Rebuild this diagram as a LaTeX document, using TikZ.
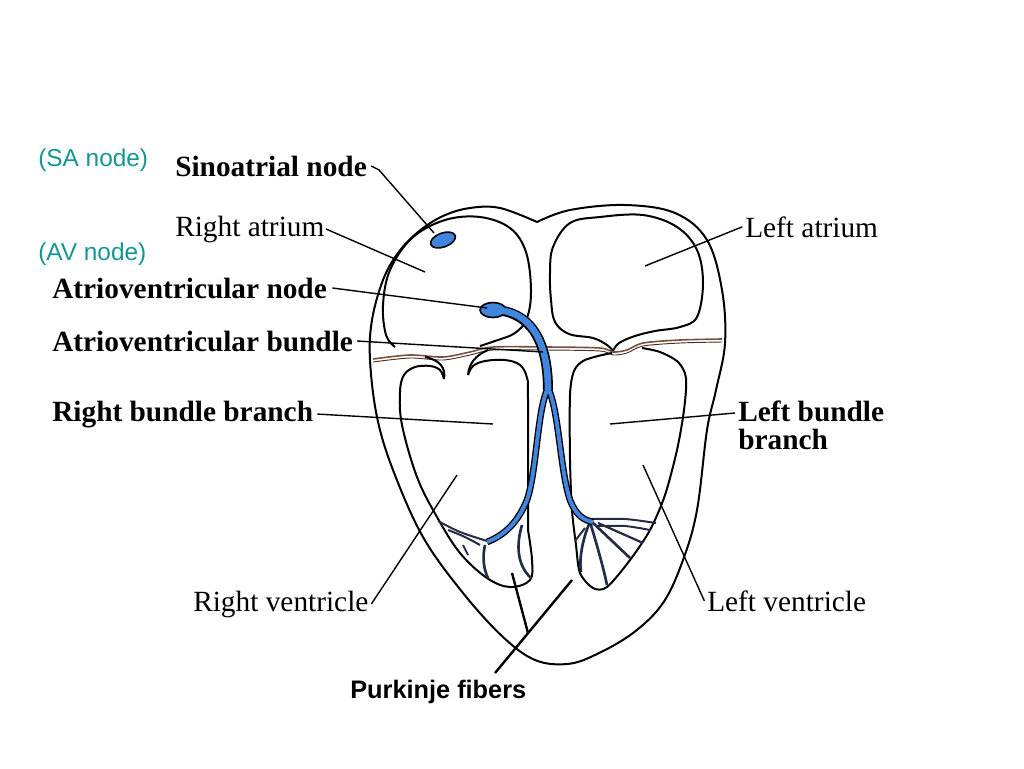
\documentclass[tikz,border=0pt]{standalone}
\usepackage{fontspec}
\setmainfont{Liberation Serif}
\newfontfamily\arialfont{Liberation Sans}
\usepackage{tikz}

\definecolor{teallabel}{RGB}{20,150,150}
\definecolor{nodeblue}{RGB}{66,133,222}
\definecolor{ringbrown}{RGB}{120,80,65}
\definecolor{fiber}{RGB}{35,45,70}

\begin{document}
\begin{tikzpicture}[x=0.75pt, y=-0.75pt,
  wall/.style={line width=1.5pt, black},
  leader/.style={line width=1.05pt, black},
  booklabel/.style={inner sep=0pt, anchor=base west, font=\fontsize{22}{20.5}\selectfont},
  boldlabel/.style={inner sep=0pt, anchor=base west, font=\fontsize{22}{20.5}\selectfont\bfseries},
  abbrlabel/.style={inner sep=0pt, anchor=base west, teallabel, font=\arialfont\fontsize{18.3}{20}\selectfont},
  purkinjelabel/.style={inner sep=0pt, anchor=base west, font=\arialfont\bfseries\fontsize{19}{20}\selectfont}]
\useasboundingbox (0,0) rectangle (1024,768);

% outer wall
\draw[wall] plot[smooth, tension=0.6] coordinates {(537,222) (570,210) (625,205) (675,213) (707,240) (722,290) (725,343) (716,390) (707,430) (697,510) (683,560) (663,603) (633,633) (595,655) (567,664) (535,660) (503,637) (463,593) (423,537) (393,470) (377,417) (370,360) (372,320) (383,280) (398,253) (418,232) (443,216) (470,208) (500,208) (537,222)};

% atria
\draw[wall] plot[smooth, tension=0.6] coordinates {(395,347) (386,335) (383,305) (390,270) (412,238) (445,220) (480,217) (510,228) (526,252) (531,290) (527,318) (515,333) (495,341) (480,346)};
\draw[wall] plot[smooth, tension=0.6] coordinates {(613,351) (619,343) (635,336) (655,331) (680,327) (697,317) (703,283) (697,250) (677,227) (643,215) (600,217) (570,223) (553,247) (550,273) (551,300) (555,322) (569,334) (593,338) (607,345) (613,351)};

% ring between atria and ventricles
\draw[ringbrown, line width=1.2pt] plot[smooth] coordinates {(373,359) (410,355) (443,357) (470,352) (493,347) (547,347) (600,348) (613,352) (627,350) (643,343) (680,340) (722,339)};
\draw[ringbrown!60!black, line width=0.7pt] plot[smooth] coordinates {(373,362) (410,358) (443,360) (470,355) (493,350) (547,350) (600,351) (613,355) (627,353) (643,346) (680,343) (722,342)};

% right ventricle
\draw[wall] (425,357) .. controls (440,360) and (446,368) .. (444,379);
\draw[wall] plot[smooth, tension=0.6] coordinates {(444,379) (440,370) (430,366) (415,367) (404,375) (400,392) (402,425) (417,477) (437,517) (460,553) (487,578) (510,587) (530,580) (532,560) (528,530)};
\draw[wall] (488,350) .. controls (476,355) and (469,363) .. (468,375);
\draw[wall] plot[smooth, tension=0.6] coordinates {(468,375) (473,366) (485,361) (505,360) (520,365) (527,378) (528,400) (528,530)};

% left ventricle
\draw[wall] plot[smooth, tension=0.5] coordinates {(612,353) (598,356) (583,361) (574,371) (570,395) (570,460) (572,510) (576,545) (580,573) (593,588) (607,587) (630,560) (650,530) (665,495) (677,450) (684,410) (686,378) (678,362) (660,352) (642,348)};

% purkinje fibers
\draw[fiber, line width=1.5pt] plot[smooth] coordinates {(438,521) (460,532) (487,541)};
\draw[fiber, line width=1.5pt] plot[smooth] coordinates {(448,530) (465,537) (480,545)};
\draw[fiber, line width=2pt] (485,545) .. controls (482,558) and (484,570) .. (488,578);
\draw[fiber, line width=1.5pt] (463,545) -- (468,555);
\draw[fiber, line width=2pt] (522,525) .. controls (516,545) and (517,565) .. (531,578);
\draw[fiber, line width=1.5pt] plot[smooth] coordinates {(592,519) (625,519) (656,523)};
\draw[fiber, line width=1.5pt] plot[smooth] coordinates {(597,526) (625,526) (650,530)};
\draw[fiber, line width=2pt] (590,522) .. controls (582,540) and (579,560) .. (581,572);
\draw[fiber, line width=2pt] (590,522) .. controls (597,545) and (604,570) .. (607,585);
\draw[fiber, line width=2pt] (592,522) -- (630,558);
\draw[fiber, line width=1.7pt] (598,523) -- (643,543);
\draw[fiber, line width=1.5pt] (585,528) -- (575,541);

% conduction path
\draw[black, line width=7.5pt] (495,310) .. controls (530,312) and (548,340) .. (548,390);
\draw[black, line width=5pt] (548,388) .. controls (537,410) and (537,470) .. (527,500) .. controls (518,522) and (505,535) .. (487,542);
\draw[black, line width=5pt] (548,388) .. controls (559,410) and (560,470) .. (570,500) .. controls (576,515) and (583,520) .. (593,522);
\filldraw[fill=nodeblue, draw=black, line width=1.2pt] (493,310) ellipse [x radius=13, y radius=7.5];
\draw[nodeblue, line width=5pt] (497,310) .. controls (530,312) and (548,340) .. (548,390);
\draw[nodeblue, line width=3pt] (548,388) .. controls (537,410) and (537,470) .. (527,500) .. controls (518,522) and (505,535) .. (487,542);
\draw[nodeblue, line width=3pt] (548,388) .. controls (559,410) and (560,470) .. (570,500) .. controls (576,515) and (583,520) .. (593,522);
\filldraw[fill=nodeblue, draw=black, line width=1.2pt] (443,240) ellipse [x radius=13, y radius=7, rotate=20];

% labels
\node[abbrlabel] (sanote) at (38,166) {(SA node)};
\node[abbrlabel] (avnote) at (38,260) {(AV node)};
\node[boldlabel] (sinoatrial) at (175,176) {Sinoatrial node};
\node[booklabel] (rightatrium) at (175,236) {Right atrium};
\node[boldlabel] (avnodelbl) at (52,298) {Atrioventricular node};
\node[boldlabel] (avbundlelbl) at (52,351) {Atrioventricular bundle};
\node[boldlabel] (rbblbl) at (52,421) {Right bundle branch};
\node[boldlabel, align=left, anchor=north west] (lbblbl) at (738,401) {Left bundle\\branch};
\node[booklabel] (leftatrium) at (745,237) {Left atrium};
\node[booklabel] (rightventricle) at (193,611) {Right ventricle};
\node[booklabel] (leftventricle) at (707,611) {Left ventricle};
\node[purkinjelabel] (purkinje) at (350,698) {Purkinje fibers};

\coordinate (sapt) at (434,233);
\coordinate (rapt) at (425,272);
\coordinate (avpt) at (487,308);
\coordinate (bundlept) at (543,352);
\coordinate (rbbpt) at (493,424);
\coordinate (lbbpt) at (610,424);
\coordinate (lapt) at (645,266);
\coordinate (rvpt) at (457,475);
\coordinate (lvpt) at (643,465);
\coordinate (pkfoot) at (495,673);
\coordinate (pkmid) at (528,633);
\coordinate (pkright) at (572,580);
\coordinate (pkleft) at (512,573);

\draw[leader] ([xshift=3pt]sinoatrial.east) -- ++(8,4) -- (sapt);
\draw[leader] ([xshift=1pt]rightatrium.east) -- (rapt);
\draw[leader] ([xshift=4pt]avnodelbl.east) -- (avpt);
\draw[leader] ([xshift=3pt]avbundlelbl.east) -- (bundlept);
\draw[leader] ([xshift=3pt]rbblbl.east) -- (rbbpt);
\draw[leader] ([shift={(-3,12)}]lbblbl.north west) -- (lbbpt);
\draw[leader] ([xshift=-2pt]leftatrium.west) -- (lapt);
\draw[leader] ([xshift=2pt]rightventricle.east) -- (rvpt);
\draw[leader] ([xshift=-2pt]leftventricle.west) -- (lvpt);
\draw[line width=1.8pt] (pkfoot) -- (pkright);
\draw[line width=1.8pt] (pkmid) -- (pkleft);

\end{tikzpicture}
\end{document}
